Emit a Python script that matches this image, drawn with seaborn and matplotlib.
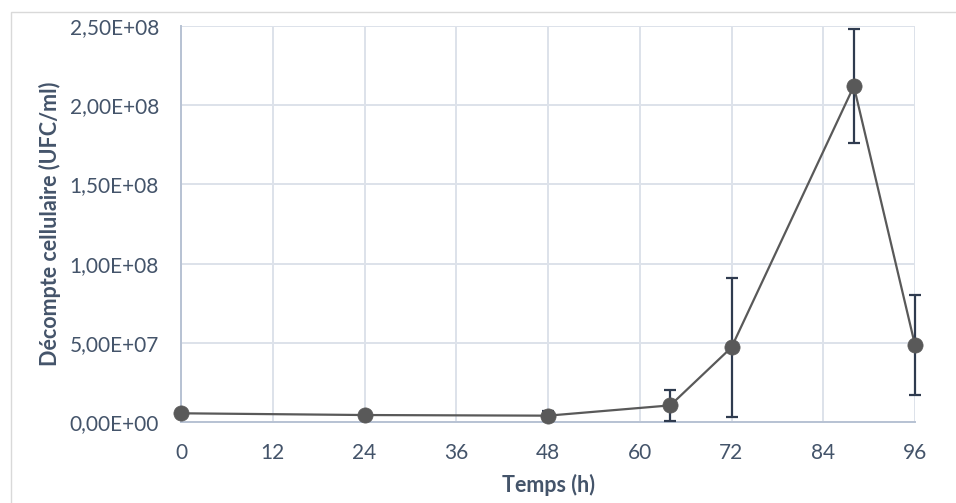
import matplotlib
matplotlib.use("Agg")
import matplotlib.pyplot as plt
import matplotlib.ticker as mticker
from matplotlib.patches import Rectangle
import seaborn as sns
import pandas as pd

# Cell counts over time (UFC/ml) with standard deviations
temps_h = [0, 24, 48, 64, 72, 88, 96]
decompte = [5.5e6, 4.4e6, 4.0e6, 10.5e6, 47.1e6, 212.0e6, 48.6e6]
ecart_type = [0.0, 0.0, 3.0e6, 10.0e6, 44.0e6, 36.0e6, 31.7e6]
x_ticks = [0, 12, 24, 36, 48, 60, 72, 84, 96]
y_ticks = [0, 5e7, 1e8, 1.5e8, 2e8, 2.5e8]

df = pd.DataFrame({"Temps (h)": temps_h, "Décompte": decompte, "sd": ecart_type})

sns.set_theme(style="white")
plt.rcParams["font.family"] = ["Lato", "DejaVu Sans"]

text_col = "#44546A"
grid_col = "#DDE2EA"
spine_col = "#B7C2D3"
series_col = "#595959"
err_col = "#2F3B4F"

fig = plt.figure(figsize=(9.56, 5.03), dpi=100)
fig.patch.set_facecolor("white")
ax = fig.add_axes([181 / 956, 1 - 422 / 503, (915 - 181) / 956, (422 - 26) / 503])

# outer chart frame
fig.patches.append(Rectangle((11 / 956, -0.1), 1.2, 1 - 12 / 503 + 0.1,
                             transform=fig.transFigure, fill=False,
                             edgecolor="#D9D9D9", linewidth=1.0, zorder=0))

sns.lineplot(data=df, x="Temps (h)", y="Décompte", ax=ax, color=series_col,
             linewidth=1.6, zorder=3)
eb = ax.errorbar(df["Temps (h)"], df["Décompte"], yerr=df["sd"], fmt="none",
                 ecolor=err_col, elinewidth=1.6, capsize=4.5, capthick=1.6, zorder=4)
for art in eb.lines[1] + eb.lines[2]:
    art.set_clip_on(False)
sns.scatterplot(data=df, x="Temps (h)", y="Décompte", ax=ax, color=series_col,
                s=120, edgecolor=series_col, linewidth=0.5, zorder=5, clip_on=False)

ax.set_xlim(0, 96)
ax.set_ylim(0, 2.5e8)
ax.set_xticks(x_ticks)
ax.set_yticks(y_ticks)
ax.yaxis.set_major_formatter(mticker.FuncFormatter(
    lambda v, p: f"{v:.2E}".replace(".", ",")))

ax.grid(True, color=grid_col, linewidth=1.4)
ax.set_axisbelow(True)
for side in ("top", "right"):
    ax.spines[side].set_visible(False)
for side in ("left", "bottom"):
    ax.spines[side].set_color(spine_col)
    ax.spines[side].set_linewidth(1.4)

ax.tick_params(axis="both", length=0, labelsize=15, labelcolor=text_col)
ax.tick_params(axis="y", pad=16)
ax.tick_params(axis="x", pad=15)

ax.set_xlabel("Temps (h)", fontsize=15.5, fontweight="bold", color=text_col, labelpad=8)
ax.set_ylabel("Décompte cellulaire (UFC/ml)", fontsize=15.5, fontweight="bold",
              color=text_col, labelpad=6)

fig.savefig("out.png", dpi=100, facecolor="white")
